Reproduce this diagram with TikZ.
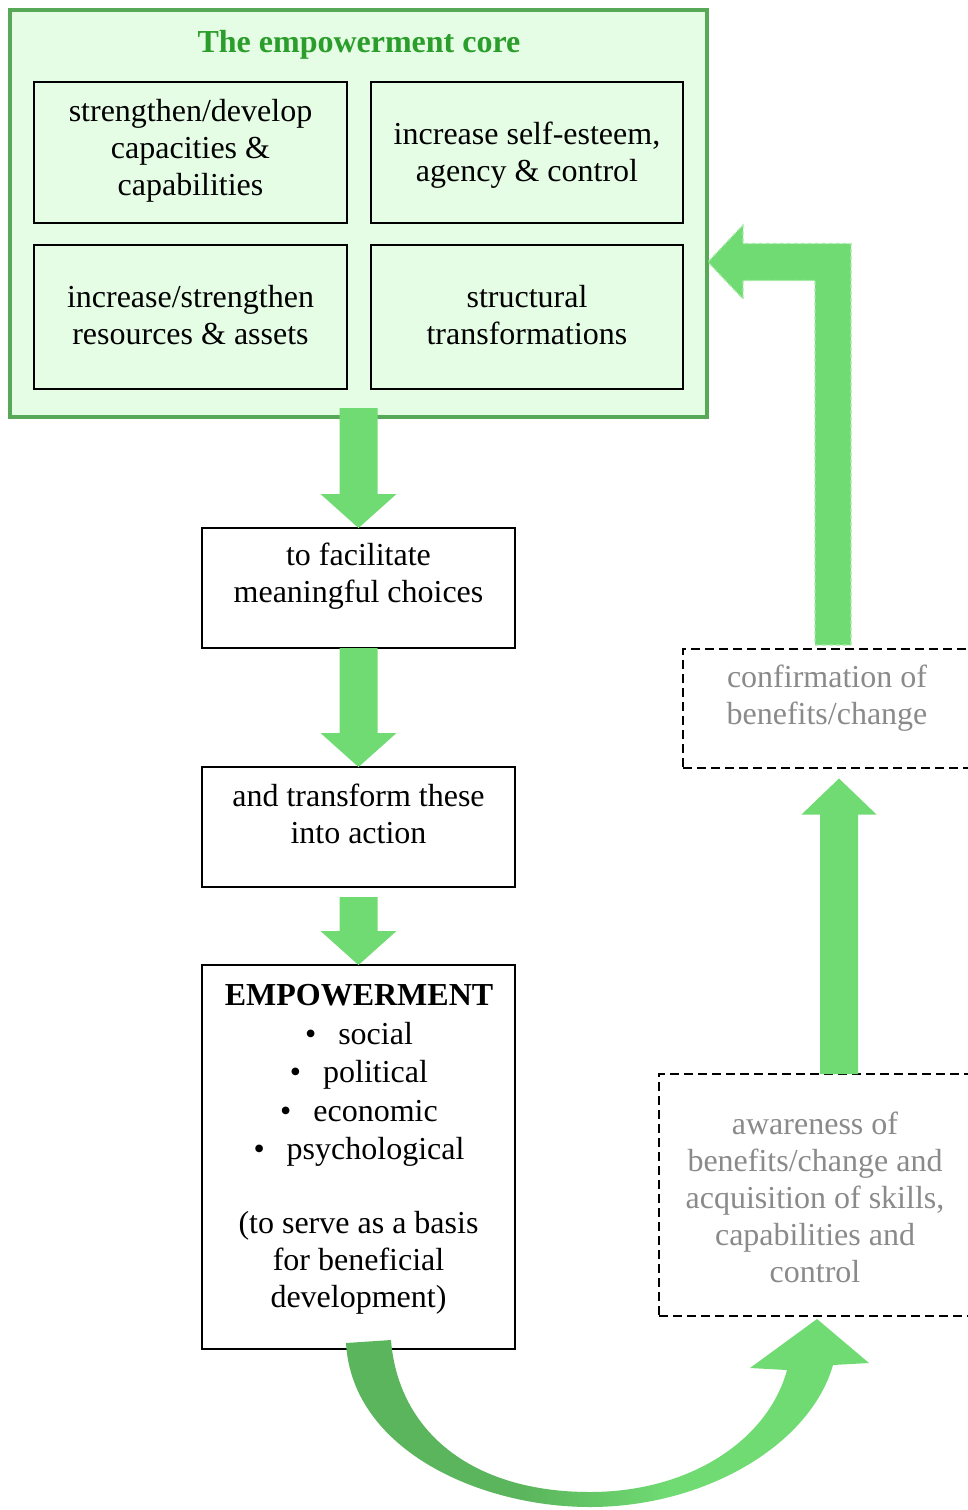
\documentclass[tikz,border=0pt]{standalone}
\usepackage{fontspec}
\setmainfont{Liberation Serif}
\usetikzlibrary{calc}

\definecolor{corefill}{HTML}{E5FCE5}
\definecolor{coreline}{HTML}{57A957}
\definecolor{titlegreen}{HTML}{2A9D2A}
\definecolor{arrowgreen}{HTML}{70DB73}
\definecolor{arrowdark}{HTML}{5BB55C}
\definecolor{dashgreen}{HTML}{A8EBA9}
\definecolor{softgrey}{HTML}{8A8A8A}

% two-tone fill for the curved return arrow
\pgfdeclarehorizontalshading{curvegreen}{100bp}{color(0bp)=(arrowdark); color(42bp)=(arrowdark); color(56bp)=(arrowgreen); color(100bp)=(arrowgreen)}

% straight block arrow pointing down from #1 to #2; #3 shifts the tail vertically
\newcommand\blockdown[3]{%
  \fill[arrowfill] ($(#1)+(-19,#3)$) -- ($(#2)+(-19,-34)$) -- ($(#2)+(-38,-34)$)
    -- (#2) -- ($(#2)+(38,-34)$) -- ($(#2)+(19,-34)$) -- ($(#1)+(19,#3)$) -- cycle;}

\begin{document}
\begin{tikzpicture}[x=1pt,y=-1pt,
  every node/.style={inner sep=0pt, outer sep=0pt},
  box/.style 2 args={rectangle, draw=black, line width=2pt,
    minimum width=#1, minimum height=#2},
  corebox/.style={fill=corefill},
  dashbox/.style 2 args={rectangle, draw=black, line width=2pt,
    dash pattern=on 9pt off 5pt, minimum width=#1, minimum height=#2},
  % text nodes are placed by the baseline of their last line
  txt/.style={font=\fontsize{32}{37}\selectfont, align=center, anchor=base},
  greytxt/.style={txt, text=softgrey},
  arrowfill/.style={fill=arrowgreen}]

\clip (0,0) rectangle (968,1510);

% the empowerment core
\node[box={697}{407}, draw=coreline, line width=3.5pt, fill=corefill] (core) at (358.5,213.5) {};
\node[txt, font=\fontsize{32}{37}\selectfont\bfseries, text=titlegreen] (title) at (359,52) {The empowerment core};

\node[box={313}{141}, corebox] (capac) at (190.5,152.5) {};
\node[box={312}{141}, corebox] (esteem) at (527,152.5) {};
\node[box={313}{144}, corebox] (resources) at (190.5,317) {};
\node[box={312}{144}, corebox] (structural) at (527,317) {};

\node[txt] (capac-t) at (190.5,195) {strengthen/develop\\capacities \&\\capabilities};
\node[txt] (esteem-t) at (527,181) {increase self-esteem,\\agency \& control};
\node[txt] (resources-t) at (190.5,344) {increase/strengthen\\resources \& assets};
\node[txt] (structural-t) at (527,344) {structural\\transformations};

% main chain
\node[box={313}{120}] (choices) at (358.5,588) {};
\node[txt] (choices-t) at (358.5,602) {to facilitate\\meaningful choices};

\node[box={313}{120}] (action) at (358.5,827) {};
\node[txt] (action-t) at (358.5,843) {and transform these\\into action};

\node[box={313}{384}] (empower) at (358.5,1157) {};
\node[txt] (empower-t) at (359,1159.5) {\textbf{EMPOWERMENT}\\[2pt]
  \textbullet\hspace{22pt}social\\[1.5pt]
  \textbullet\hspace{22pt}political\\[1.5pt]
  \textbullet\hspace{22pt}economic\\[1.5pt]
  \textbullet\hspace{22pt}psychological};
\node[txt] (basis-t) at (358.5,1307) {(to serve as a basis\\for beneficial\\development)};

% feedback loop
\node[dashbox={292}{119}] (confirm) at (829,708.5) {};
\node[greytxt] (confirm-t) at (827,724) {confirmation of\\benefits/change};

\node[dashbox={316}{242}] (aware) at (817,1195) {};
\node[greytxt] (aware-t) at (815,1282) {awareness of\\benefits/change and\\acquisition of skills,\\capabilities and\\control};

% straight arrows down the chain
\blockdown{core.south}{choices.north}{-9}
\blockdown{choices.south}{action.north}{0}
\blockdown{action.south}{empower.north}{10}

% arrow up from awareness to confirmation
\coordinate (upfoot) at ($(aware.north)+(22,0)$);
\coordinate (uptip) at ($(confirm.south)+(10,10.5)$);
\fill[arrowfill] ($(upfoot)+(-19,0)$) -- ($(uptip)+(-19,36)$) -- ($(uptip)+(-37.5,36)$)
  -- (uptip) -- ($(uptip)+(37.5,36)$) -- ($(uptip)+(19,36)$) -- ($(upfoot)+(19,0)$) -- cycle;

% elbow arrow back into the core
\coordinate (elbowfoot) at ($(confirm.north)+(4,-4)$);
\coordinate (elbowtip) at ($(core.north east)+(1,252)$);
\coordinate (ec) at (elbowfoot |- elbowtip);
\filldraw[arrowfill, draw=dashgreen, line width=1.2pt, dash pattern=on 4pt off 3pt]
  ($(elbowfoot)+(18,0)$) -- ($(ec)+(18,-18.5)$) -- ($(elbowtip)+(35,-18.5)$)
  -- ($(elbowtip)+(35,-37)$) -- (elbowtip) -- ($(elbowtip)+(35,37)$)
  -- ($(elbowtip)+(35,18.5)$) -- ($(ec)+(-18,18.5)$) -- ($(elbowfoot)+(-18,0)$) -- cycle;

% curved arrow from empowerment round to awareness
\coordinate (cs1) at ($(empower.south)+(-12.5,-6)$);
\coordinate (cs2) at ($(empower.south)+(32.5,-9)$);
\coordinate (ctip) at ($(aware.south)+(0,3)$);
\coordinate (chl) at ($(aware.south)+(-67,52)$);
\coordinate (csl) at ($(aware.south)+(-30,54)$);
\coordinate (csr) at ($(aware.south)+(16,49)$);
\coordinate (chr) at ($(aware.south)+(52,47)$);
\shade[shading=curvegreen]
  (cs1) .. controls (352,1450) and (480,1507) .. (590,1507)
  .. controls (705,1507) and (810,1445) .. (csr)
  -- (chr) -- (ctip) -- (chl) -- (csl)
  .. controls (768,1440) and (690,1492) .. (590,1492)
  .. controls (470,1492) and (398,1430) .. (cs2) -- cycle;

\end{tikzpicture}
\end{document}
